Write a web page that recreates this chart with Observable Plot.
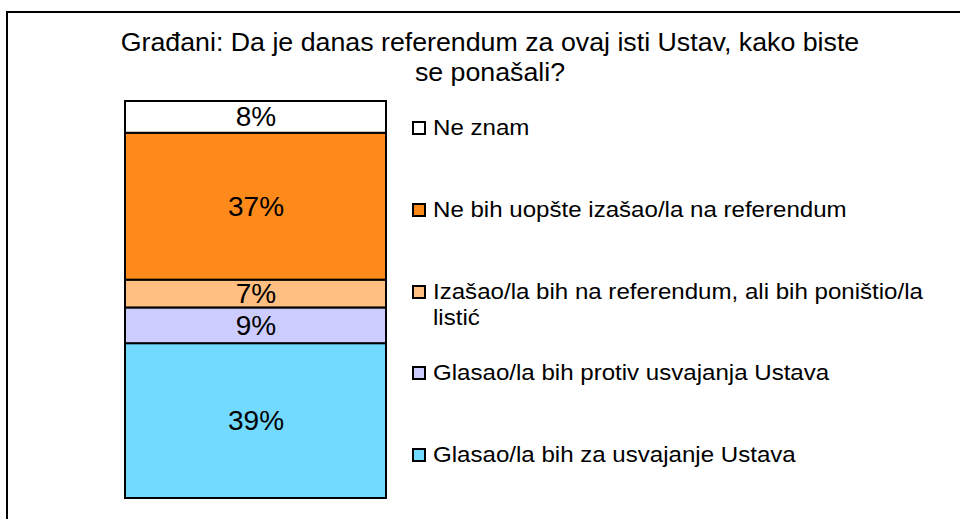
<!DOCTYPE html>
<html>
<head>
<meta charset="utf-8">
<script src="https://cdn.jsdelivr.net/npm/d3@7"></script>
<script src="https://cdn.jsdelivr.net/npm/@observablehq/plot@0.6"></script>
<style>
  html, body { margin: 0; padding: 0; background: #fff; }
  body { width: 960px; height: 519px; overflow: hidden; position: relative; font-family: "Liberation Sans", Arial, sans-serif; color: #000; }
  #frame { position: absolute; left: 6px; top: 11px; width: 1000px; height: 600px; border: 2px solid #000; box-sizing: border-box; }
  #title { position: absolute; left: 90px; width: 800px; top: 27px; text-align: center; font-size: 25px; line-height: 30px; transform: scaleX(1.07); transform-origin: 400px 0; }
  #chart { position: absolute; left: 0; top: 0; }
  #legend { position: absolute; left: 412px; top: 0; }
  .item { position: absolute; left: 0; white-space: nowrap; font-size: 21.5px; line-height: 26px; }
  .sw { position: absolute; left: 0; top: 6px; width: 14px; height: 14px; border: 2px solid #000; box-sizing: border-box; }
  .lbl { position: absolute; left: 21px; top: 0; transform: scaleX(1.12); transform-origin: 0 0; }
</style>
</head>
<body>
<div id="frame"></div>
<div id="title">Građani: Da je danas referendum za ovaj isti Ustav, kako biste<br>se ponašali?</div>
<div id="chart"></div>
<div id="legend"></div>
<script>
const group = "Građani";
const answers = [
  "Glasao/la bih za usvajanje Ustava",
  "Glasao/la bih protiv usvajanja Ustava",
  "Izašao/la bih na referendum, ali bih poništio/la listić",
  "Ne bih uopšte izašao/la na referendum",
  "Ne znam"
];
const legendLines = [
  ["Glasao/la bih za usvajanje Ustava"],
  ["Glasao/la bih protiv usvajanja Ustava"],
  ["Izašao/la bih na referendum, ali bih poništio/la", "listić"],
  ["Ne bih uopšte izašao/la na referendum"],
  ["Ne znam"]
];
const values = [39, 9, 7, 37, 8];
const colors = ["#73DAFF", "#CCCCFF", "#FFBF80", "#FF8A1C", "#FFFFFF"];
const legendTops = [442, 360, 279, 197, 115];

const data = answers.map((a, i) => ({group, answer: a, value: values[i], label: values[i] + "%"}));

const chart = Plot.plot({
  width: 960,
  height: 519,
  marginLeft: 125,
  marginRight: 574,
  marginTop: 101,
  marginBottom: 21,
  x: {axis: null, domain: [group], padding: 0},
  y: {axis: null, domain: [0, 100]},
  color: {domain: answers, range: colors},
  style: {fontFamily: "'Liberation Sans', Arial, sans-serif", background: "transparent", overflow: "visible"},
  marks: [
    Plot.barY(data, {x: "group", y: "value", fill: "answer", stroke: "#000", strokeWidth: 2}),
    Plot.text(data, Plot.stackY({x: "group", y: "value", text: "label", fontSize: 28, fill: "#000"}))
  ]
});
document.getElementById("chart").appendChild(chart);

const legend = document.getElementById("legend");
answers.forEach((a, i) => {
  const item = document.createElement("div");
  item.className = "item";
  item.style.top = legendTops[i] + "px";
  const sw = document.createElement("div");
  sw.className = "sw";
  sw.style.background = colors[i];
  const lbl = document.createElement("div");
  lbl.className = "lbl";
  lbl.innerHTML = legendLines[i].join("<br>");
  item.appendChild(sw);
  item.appendChild(lbl);
  legend.appendChild(item);
});
</script>
</body>
</html>
